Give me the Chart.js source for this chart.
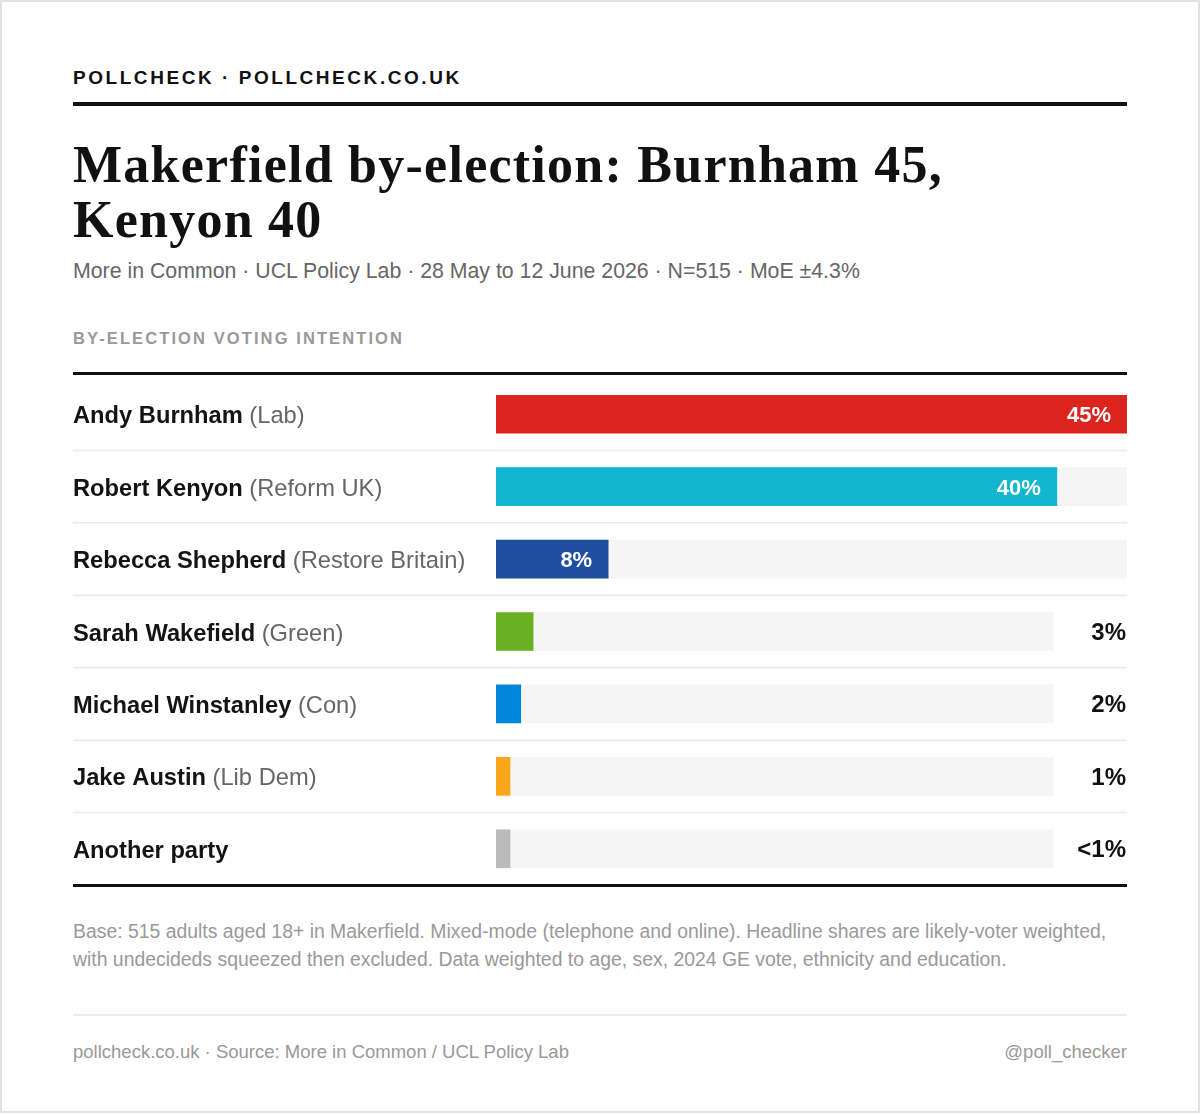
<!DOCTYPE html>
<html>
<head>
<meta charset="utf-8">
<script src="https://cdn.jsdelivr.net/npm/chart.js@4"></script>
<style>
  html, body { margin:0; padding:0; background:#fff; }
  #page { position:relative; width:1200px; height:1113px; box-sizing:border-box; border:2px solid #e2e2e2; background:#fff; font-family:"Liberation Sans", Arial, sans-serif; }
  .abs { position:absolute; white-space:nowrap; }
  #brand { left:71px; top:66px; font-size:19px; line-height:19px; font-weight:bold; letter-spacing:2.55px; color:#111; }
  #rule1 { left:71px; top:100px; width:1054px; height:4px; background:#111; }
  #title { left:71px; top:135px; font-family:"Liberation Serif", "Times New Roman", serif; font-weight:bold; font-size:52px; line-height:55px; letter-spacing:1.25px; color:#111; }
  #sub { left:71px; top:259px; font-size:21.3px; line-height:21.3px; color:#666; }
  #section { left:71px; top:328px; font-size:16.5px; line-height:16.5px; font-weight:bold; letter-spacing:2.1px; color:#999; }
  #rule2 { left:71px; top:370px; width:1054px; height:3px; background:#111; }
  #chartBox { position:absolute; left:71px; top:376px; width:1054px; height:507px; }
  #rule3 { left:71px; top:882px; width:1054px; height:3px; background:#111; }
  #note { left:71px; top:915px; font-size:19.4px; line-height:28px; color:#999; white-space:normal; width:1054px; }
  #rule4 { left:71px; top:1012px; width:1054px; height:2px; background:#ececec; }
  #foot { left:71px; top:1041px; font-size:18.5px; line-height:18.5px; color:#999; }
  #handle { right:71px; top:1041px; font-size:18.5px; line-height:18.5px; color:#999; }
</style>
</head>
<body>
<div id="page">
  <div class="abs" id="brand">POLLCHECK · POLLCHECK.CO.UK</div>
  <div class="abs" id="rule1"></div>
  <div class="abs" id="title">Makerfield by-election: Burnham 45,<br>Kenyon 40</div>
  <div class="abs" id="sub">More in Common · UCL Policy Lab · 28 May to 12 June 2026 · N=515 · MoE ±4.3%</div>
  <div class="abs" id="section">BY-ELECTION VOTING INTENTION</div>
  <div class="abs" id="rule2"></div>
  <div id="chartBox"><canvas id="c"></canvas></div>
  <div class="abs" id="rule3"></div>
  <div class="abs" id="note">Base: 515 adults aged 18+ in Makerfield. Mixed-mode (telephone and online). Headline shares are likely-voter weighted, with undecideds squeezed then excluded. Data weighted to age, sex, 2024 GE vote, ethnicity and education.</div>
  <div class="abs" id="rule4"></div>
  <div class="abs" id="foot">pollcheck.co.uk · Source: More in Common / UCL Policy Lab</div>
  <div class="abs" id="handle">@poll_checker</div>
</div>
<script>
// ---- data ----
const candidates = ["Andy Burnham", "Robert Kenyon", "Rebecca Shepherd", "Sarah Wakefield", "Michael Winstanley", "Jake Austin", "Another party"];
const parties = ["(Lab)", "(Reform UK)", "(Restore Britain)", "(Green)", "(Con)", "(Lib Dem)", ""];
const shares = [45, 40, 8, 3, 2, 1, 0.5];
const shareLabels = ["45%", "40%", "8%", "3%", "2%", "1%", "<1%"];
const partyColors = ["#dc241f", "#12b6cf", "#1f4ea1", "#6ab023", "#0087dc", "#faa61a", "#bbbbbb"];
const scaleMax = 45;
const insideThreshold = 5;

// ---- layout constants (style) ----
const LABEL_COL = 423;
const CANVAS_W = 1054;
const AREA_W = CANVAS_W - LABEL_COL;
const OUT_LABEL_COL = 74;
const x2Max = scaleMax * AREA_W / (AREA_W - OUT_LABEL_COL);

const inside = shares.map(v => v >= insideThreshold);
const pick = (arr, cond) => arr.map((v, i) => cond(i) ? v : null);

const common = { barThickness: 38, borderWidth: 0, borderSkipped: false, grouped: false };

const labelPlugin = {
  id: 'rowLabels',
  beforeDatasetsDraw(chart) {
    const ctx = chart.ctx, y = chart.scales.y;
    ctx.save();
    ctx.strokeStyle = '#ebebeb';
    ctx.lineWidth = 1.5;
    for (let i = 0; i < candidates.length - 1; i++) {
      const yy = (y.getPixelForValue(i) + y.getPixelForValue(i + 1)) / 2;
      ctx.beginPath(); ctx.moveTo(0, yy); ctx.lineTo(chart.width, yy); ctx.stroke();
    }
    ctx.restore();
  },
  afterDatasetsDraw(chart) {
    const ctx = chart.ctx, y = chart.scales.y;
    ctx.save();
    ctx.textBaseline = 'alphabetic';
    candidates.forEach((name, i) => {
      const yc = y.getPixelForValue(i) + 9;
      ctx.textAlign = 'left';
      ctx.font = 'bold 23.7px "Liberation Sans", Arial, sans-serif';
      ctx.fillStyle = '#141414';
      ctx.fillText(name, 0, yc);
      const w = ctx.measureText(name).width;
      ctx.font = '23.7px "Liberation Sans", Arial, sans-serif';
      ctx.fillStyle = '#666';
      if (parties[i]) ctx.fillText(' ' + parties[i], w, yc);
    });
    // value labels
    const inMeta = chart.getDatasetMeta(2), outMeta = chart.getDatasetMeta(3);
    shares.forEach((v, i) => {
      if (inside[i]) {
        const el = inMeta.data[i];
        ctx.font = 'bold 22px "Liberation Sans", Arial, sans-serif';
        ctx.fillStyle = '#fff';
        ctx.textAlign = 'right';
        ctx.fillText(shareLabels[i], el.x - 16, el.y + 8);
      } else {
        const el = outMeta.data[i];
        ctx.font = 'bold 24px "Liberation Sans", Arial, sans-serif';
        ctx.fillStyle = '#111';
        ctx.textAlign = 'right';
        ctx.fillText(shareLabels[i], chart.chartArea.right - 1, el.y + 8.5);
      }
    });
    ctx.restore();
  }
};

new Chart(document.getElementById('c'), {
  type: 'bar',
  data: {
    labels: candidates,
    datasets: [
      Object.assign({ label: 'track', xAxisID: 'x', order: 3, backgroundColor: '#f5f5f5',
        data: pick(shares.map(() => scaleMax), i => inside[i]) }, common),
      Object.assign({ label: 'track2', xAxisID: 'x2', order: 3, backgroundColor: '#f5f5f5',
        data: pick(shares.map(() => scaleMax), i => !inside[i]) }, common),
      Object.assign({ label: 'share', xAxisID: 'x', order: 1, backgroundColor: partyColors,
        data: pick(shares, i => inside[i]) }, common),
      Object.assign({ label: 'share2', xAxisID: 'x2', order: 1, backgroundColor: partyColors, minBarLength: 14,
        data: pick(shares, i => !inside[i]) }, common)
    ]
  },
  options: {
    indexAxis: 'y',
    responsive: true,
    maintainAspectRatio: false,
    animation: false,
    layout: { padding: { left: LABEL_COL, right: 0, top: 0, bottom: 0 } },
    plugins: { legend: { display: false }, tooltip: { enabled: false } },
    scales: {
      x: { min: 0, max: scaleMax, display: false },
      x2: { min: 0, max: x2Max, display: false },
      y: { display: false }
    }
  },
  plugins: [labelPlugin]
});
</script>
</body>
</html>
